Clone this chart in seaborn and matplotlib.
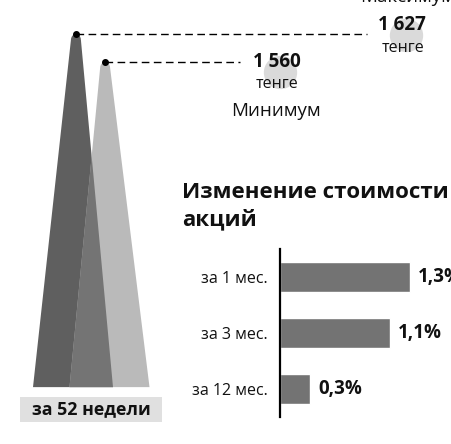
import numpy as np
import matplotlib
matplotlib.use("Agg")
import matplotlib.pyplot as plt
import matplotlib.transforms as mtransforms
from matplotlib.patches import Polygon, Rectangle
import seaborn as sns

# data
spike_names = ["Максимум", "Минимум"]
spike_values = [1627, 1560]
spike_labels = ["1 627", "1 560"]
unit_label = "тенге"
period_label = "за 52 недели"

change_labels = ["за 1 мес.", "за 3 мес.", "за 12 мес."]
change_values = [1.3, 1.1, 0.3]
change_text = ["1,3%", "1,1%", "0,3%"]
chart_title = ["Изменение стоимости", "акций"]

sns.set_theme(style="white")
plt.rcParams["font.family"] = ["Open Sans", "DejaVu Sans"]

DARK, LIGHT, MID = "#5f5f5f", "#bababa", "#747474"
BAR = "#737373"
CIRCLE = "#dadada"
INK = "#111111"

fig = plt.figure(figsize=(4.51, 4.44), dpi=100)

# --- spikes: full-figure axes, 1 x unit = 36.5 px, 1 px = 2.393 value units
ax = fig.add_axes([0, 0, 1, 1])
ax.set_xlim(-2.0, 10.356)
ax.set_ylim(645.9, 1708.4)
ax.axis("off")

FLOOR = 782
PX_X = 1 / 36.5
PX_Y = 2.393
half_base = 40 * PX_X
cap_rx, cap_ry = 5 * PX_X, 6 * PX_Y
lean = [0.08, -0.12]


def spike_poly(xc, ln, top):
    ax_ = xc + ln
    t = np.linspace(np.pi, 0, 12)
    arc = np.column_stack([ax_ + cap_rx * np.cos(t), top - cap_ry + cap_ry * np.sin(t)])
    pts = [(xc - half_base, FLOOR)] + arc.tolist() + [(xc + half_base, FLOOR)]
    return np.array(pts)


polys = [spike_poly(i, lean[i], v) for i, v in enumerate(spike_values)]
ax.add_patch(Polygon(polys[0], closed=True, color=DARK, lw=0))
ax.add_patch(Polygon(polys[1], closed=True, color=LIGHT, lw=0))

# overlap: dark right edge vs light left edge
p1, p2 = polys[0][-1], polys[0][-2]
q1, q2 = polys[1][0], polys[1][1]
d1, d2 = p2 - p1, q2 - q1
s = np.cross(q1 - p1, d2) / np.cross(d1, d2)
cross_pt = p1 + s * d1
ax.add_patch(Polygon([q1, p1, cross_pt], closed=True, color=MID, lw=0))

line_end = [8.05, 4.58]
for i, v in enumerate(spike_values):
    apex = i + lean[i]
    ax.plot([apex, line_end[i]], [v, v], color="black", lw=1.0,
            ls=(0, (5.5, 3.2)), solid_capstyle="butt")
    ax.plot([apex], [v], "o", color="black", ms=4)

# circles behind the numbers
circ_off = [(39, -1), (40, -10)]
label_off = [(35, 9), (37, 0)]
unit_off = [(36, -14), (37, -22)]
name_off = [(41, 37), (36, -49)]
for i, v in enumerate(spike_values):
    tr = mtransforms.offset_copy(ax.transData, fig=fig, x=circ_off[i][0],
                                 y=circ_off[i][1], units="dots")
    ax.plot([line_end[i]], [v], "o", color=CIRCLE, ms=24, mec="none",
            transform=tr, zorder=1)
    ax.annotate(spike_labels[i], (line_end[i], v), xytext=label_off[i],
                textcoords="offset pixels", ha="center", va="center",
                fontsize=13.5, fontweight="bold", color=INK, zorder=3)
    ax.annotate(unit_label, (line_end[i], v), xytext=unit_off[i],
                textcoords="offset pixels", ha="center", va="center",
                fontsize=11.5, color=INK, zorder=3)
    ax.annotate(spike_names[i], (line_end[i], v), xytext=name_off[i],
                textcoords="offset pixels", ha="center", va="center",
                fontsize=13.5, color=INK, zorder=3)

# period box under the spikes
ax.add_patch(Rectangle((20 / 451, 1 - 422 / 444), 142 / 451, 25 / 444,
                       transform=ax.transAxes, color="#e0e0e0", lw=0))
ax.text(91 / 451, 1 - 409 / 444, period_label, transform=ax.transAxes,
        ha="center", va="center", fontsize=12.8, fontweight="bold", color=INK)

# title
fig.text(182 / 451, 1 - 198 / 444, chart_title[0], ha="left", va="baseline",
         fontsize=16, fontweight="bold", color=INK)
fig.text(182 / 451, 1 - 225 / 444, chart_title[1], ha="left", va="baseline",
         fontsize=16, fontweight="bold", color=INK)

# --- change bars
bax = fig.add_axes([280 / 451, 1 - 417 / 444, 171 / 451, 168 / 444])
sns.barplot(x=change_values, y=change_labels, orient="h", color=BAR,
            width=0.55, saturation=1, ax=bax)
bax.set_xlim(0, 1.71)
bax.set_ylim(2.5, -0.5)
bax.set_facecolor("none")
for sp in ["top", "right", "bottom"]:
    bax.spines[sp].set_visible(False)
bax.spines["left"].set_color("black")
bax.spines["left"].set_linewidth(1.6)
bax.set_xticks([])
bax.tick_params(axis="y", length=0, pad=9, labelsize=11.5, labelcolor=INK)
bax.set_xlabel("")
bax.set_ylabel("")
for i, v in enumerate(change_values):
    bax.text(v + 0.08, i, change_text[i], ha="left", va="center",
             fontsize=13.5, fontweight="bold", color=INK, clip_on=False)

fig.savefig("out.png", dpi=100)
